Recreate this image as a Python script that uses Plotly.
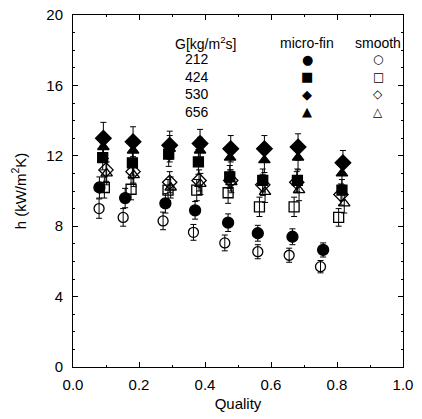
import plotly.graph_objects as go

# Quality (x) positions per series
x_mf212 = [0.080, 0.158, 0.280, 0.370, 0.470, 0.560, 0.665, 0.758]
x_sm212 = [0.079, 0.152, 0.273, 0.365, 0.460, 0.560, 0.655, 0.750]
x_mf424 = [0.090, 0.180, 0.290, 0.380, 0.475, 0.575, 0.680, 0.815]
x_sm424 = [0.095, 0.176, 0.288, 0.375, 0.470, 0.565, 0.670, 0.805]
x_mf530 = [0.092, 0.182, 0.293, 0.385, 0.478, 0.580, 0.682, 0.818]
x_sm530 = [0.100, 0.182, 0.293, 0.382, 0.478, 0.575, 0.678, 0.812]
x_mf656 = [0.092, 0.182, 0.293, 0.385, 0.476, 0.580, 0.682, 0.815]
x_sm656 = [0.102, 0.184, 0.296, 0.386, 0.480, 0.582, 0.685, 0.822]

# Heat transfer coefficient h (kW/m2K)
h_mf212 = [10.2, 9.6, 9.3, 8.9, 8.2, 7.6, 7.4, 6.65]
h_sm212 = [9.0, 8.5, 8.3, 7.65, 7.05, 6.55, 6.35, 5.7]
h_mf424 = [11.9, 11.6, 12.1, 11.65, 10.8, 10.6, 10.6, 10.05]
h_sm424 = [10.2, 10.1, 10.05, 10.05, 9.9, 9.1, 9.1, 8.5]
h_mf530 = [13.0, 12.8, 12.6, 12.7, 12.4, 12.4, 12.5, 11.6]
h_sm530 = [11.2, 11.1, 10.5, 10.6, 10.6, 10.35, 10.5, 9.8]
h_mf656 = [12.5, 12.3, 12.4, 12.3, 11.9, 11.75, 11.9, 11.0]
h_sm656 = [11.0, 10.9, 10.2, 10.4, 10.5, 9.95, 10.05, 9.3]

# Error bar half-widths
e_mf212 = [0.6, 0.55, 0.55, 0.5, 0.5, 0.45, 0.45, 0.4]
e_sm212 = [0.55, 0.5, 0.5, 0.45, 0.45, 0.4, 0.4, 0.35]
e_mf424 = [0.7, 0.7, 0.7, 0.7, 0.65, 0.65, 0.65, 0.6]
e_sm424 = [0.6, 0.6, 0.6, 0.6, 0.6, 0.55, 0.55, 0.5]
e_mf530 = [0.9, 0.85, 0.8, 0.8, 0.75, 0.75, 0.75, 0.7]
e_sm530 = [0.65, 0.65, 0.6, 0.6, 0.6, 0.6, 0.6, 0.6]
e_mf656 = [0.75, 0.75, 0.75, 0.75, 0.7, 0.7, 0.7, 0.65]
e_sm656 = [0.65, 0.65, 0.6, 0.6, 0.6, 0.6, 0.6, 0.55]

mass_flux = ["212", "424", "530", "656"]
x_ticks = [0.0, 0.2, 0.4, 0.6, 0.8, 1.0]
y_ticks = [0, 4, 8, 12, 16, 20]

FONT = "Liberation Sans, Arial, sans-serif"

series = [
    (x_sm212, h_sm212, e_sm212, "circle-open", 10),
    (x_sm424, h_sm424, e_sm424, "square-open", 10),
    (x_sm530, h_sm530, e_sm530, "diamond-open", 11),
    (x_sm656, h_sm656, e_sm656, "triangle-up-open", 10),
    (x_mf212, h_mf212, e_mf212, "circle", 11),
    (x_mf424, h_mf424, e_mf424, "square", 10),
    (x_mf656, h_mf656, e_mf656, "triangle-up", 10),
    (x_mf530, h_mf530, e_mf530, "diamond", 12),
]

fig = go.Figure()
for xs, ys, es, sym, sz in series:
    fig.add_trace(go.Scatter(
        x=xs, y=ys, mode="markers",
        marker=dict(symbol=sym, size=sz, color="black",
                    line=dict(color="black", width=1.3)),
        error_y=dict(type="data", array=es, visible=True,
                     color="black", thickness=1, width=3),
        showlegend=False,
    ))

# Legend table as text
leg_y = [17.5, 16.5, 15.5, 14.5]
mf_syms = ["●", "■", "◆", "▲"]
sm_syms = ["○", "□", "◇", "△"]
fig.add_annotation(x=0.40, y=18.4, text="G[kg/m<sup>2</sup>s]", showarrow=False,
                   font=dict(family=FONT, size=14, color="black"))
fig.add_annotation(x=0.71, y=18.4, text="micro-fin", showarrow=False,
                   font=dict(family=FONT, size=14, color="black"))
fig.add_annotation(x=0.925, y=18.4, text="smooth", showarrow=False,
                   font=dict(family=FONT, size=14, color="black"))
for i, g in enumerate(mass_flux):
    fig.add_annotation(x=0.377, y=leg_y[i], text=g, showarrow=False,
                       font=dict(family=FONT, size=14, color="black"))
    fig.add_annotation(x=0.71, y=leg_y[i], text=mf_syms[i], showarrow=False,
                       font=dict(family="DejaVu Sans", size=13, color="black"))
    fig.add_annotation(x=0.925, y=leg_y[i], text=sm_syms[i], showarrow=False,
                       font=dict(family="DejaVu Sans", size=12, color="black"))

axis_common = dict(showline=True, linecolor="black", linewidth=1, mirror="ticks",
                   ticks="inside", ticklen=5, tickcolor="black", showgrid=False,
                   zeroline=False, automargin=False, ticklabeloverflow="allow",
                   tickfont=dict(family=FONT, size=15, color="black"))
fig.update_xaxes(range=[0, 1.0], tickvals=x_ticks, ticktext=[f"{v:.1f}" for v in x_ticks],
                 title=dict(text="Quality", font=dict(family=FONT, size=15, color="black"),
                            standoff=6),
                 ticklabelstandoff=4,
                 minor=dict(ticks="inside", ticklen=2, dtick=0.1, tickcolor="black"),
                 **axis_common)
fig.update_yaxes(range=[0, 20], tickvals=y_ticks, ticktext=[str(v) for v in y_ticks],
                 title=dict(text="h (kW/m<sup>2</sup>K)", font=dict(family=FONT, size=15, color="black"),
                            standoff=16),
                 ticklabelstandoff=6,
                 minor=dict(ticks="inside", ticklen=2, dtick=1, tickcolor="black"),
                 **axis_common)

fig.update_layout(width=422, height=419, margin=dict(l=73, r=19, t=15, b=52),
                  plot_bgcolor="white", paper_bgcolor="white",
                  font=dict(family=FONT, color="black"))
# remove the page's default 8px body margin so the figure fills the window
fig.write_html("out.html", config={"displayModeBar": False},
               post_script="document.body.style.margin='0';")
